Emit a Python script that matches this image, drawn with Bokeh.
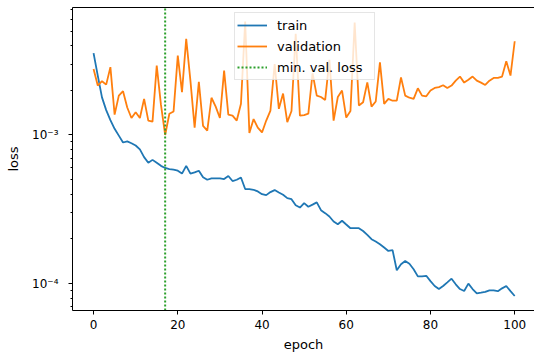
import numpy as np
from bokeh.plotting import figure
from bokeh.models import (Range1d, FixedTicker, CustomJSTickFormatter, LinearAxis,
                          Legend, LegendItem)
from bokeh.embed import file_html
from bokeh.resources import INLINE

epochs = list(range(101))

train = [
    3.55e-3, 2.51e-3, 1.79e-3, 1.47e-3, 1.26e-3, 1.10e-3, 0.99e-3, 0.89e-3, 0.905e-3, 0.88e-3,
    0.85e-3, 0.80e-3, 0.71e-3, 0.65e-3, 0.68e-3, 0.65e-3, 0.62e-3, 0.60e-3, 0.59e-3, 0.585e-3,
    0.575e-3, 0.55e-3, 0.62e-3, 0.55e-3, 0.56e-3, 0.575e-3, 0.52e-3, 0.50e-3, 0.51e-3, 0.51e-3,
    0.51e-3, 0.505e-3, 0.53e-3, 0.49e-3, 0.50e-3, 0.518e-3, 0.433e-3, 0.432e-3, 0.428e-3, 0.417e-3,
    0.40e-3, 0.394e-3, 0.413e-3, 0.426e-3, 0.41e-3, 0.396e-3, 0.376e-3, 0.37e-3, 0.337e-3, 0.325e-3,
    0.348e-3, 0.329e-3, 0.34e-3, 0.352e-3, 0.312e-3, 0.298e-3, 0.283e-3, 0.262e-3, 0.251e-3, 0.265e-3,
    0.25e-3, 0.236e-3, 0.236e-3, 0.236e-3, 0.226e-3, 0.213e-3, 0.199e-3, 0.192e-3, 0.184e-3, 0.175e-3,
    0.166e-3, 0.168e-3, 0.123e-3, 0.135e-3, 0.142e-3, 0.136e-3, 0.125e-3, 0.112e-3, 0.112e-3, 0.113e-3,
    0.104e-3, 0.0964e-3, 0.092e-3, 0.0964e-3, 0.102e-3, 0.108e-3, 0.099e-3, 0.092e-3, 0.0893e-3, 0.100e-3,
    0.092e-3, 0.0861e-3, 0.087e-3, 0.088e-3, 0.0902e-3, 0.090e-3, 0.089e-3, 0.093e-3, 0.0964e-3, 0.089e-3,
    0.0826e-3,
]

validation = [
    2.78e-3, 2.15e-3, 2.30e-3, 2.18e-3, 2.86e-3, 1.37e-3, 1.84e-3, 1.97e-3, 1.53e-3, 1.30e-3,
    1.42e-3, 1.30e-3, 1.75e-3, 1.25e-3, 1.23e-3, 2.93e-3, 1.60e-3, 1.00e-3, 1.39e-3, 1.44e-3,
    3.42e-3, 1.94e-3, 4.43e-3, 2.32e-3, 1.12e-3, 2.28e-3, 1.15e-3, 1.07e-3, 1.78e-3, 1.55e-3,
    1.30e-3, 2.71e-3, 1.37e-3, 1.35e-3, 1.25e-3, 1.62e-3, 5.80e-3, 1.03e-3, 1.28e-3, 1.12e-3,
    1.04e-3, 1.25e-3, 1.46e-3, 3.00e-3, 1.50e-3, 1.90e-3, 1.22e-3, 1.45e-3, 4.80e-3, 1.35e-3,
    1.36e-3, 1.39e-3, 2.60e-3, 1.84e-3, 1.80e-3, 1.72e-3, 3.20e-3, 1.25e-3, 1.80e-3, 1.99e-3,
    1.31e-3, 1.45e-3, 5.70e-3, 1.58e-3, 1.66e-3, 2.26e-3, 1.55e-3, 1.68e-3, 3.08e-3, 1.62e-3,
    1.75e-3, 1.70e-3, 1.70e-3, 2.44e-3, 1.84e-3, 1.78e-3, 1.75e-3, 2.06e-3, 1.84e-3, 1.82e-3,
    1.99e-3, 2.07e-3, 2.10e-3, 2.16e-3, 2.07e-3, 2.15e-3, 2.32e-3, 2.47e-3, 2.25e-3, 2.35e-3,
    2.47e-3, 2.32e-3, 2.25e-3, 2.17e-3, 2.32e-3, 2.42e-3, 2.42e-3, 2.47e-3, 3.13e-3, 2.51e-3,
    4.27e-3,
]

x_ticks = [0, 20, 40, 60, 80, 100]
y_major_ticks = [1e-4, 1e-3]
y_minor_ticks = [7e-5, 8e-5, 9e-5, 2e-4, 3e-4, 4e-4, 5e-4, 6e-4, 7e-4, 8e-4, 9e-4,
                 2e-3, 3e-3, 4e-3, 5e-3, 6e-3, 7e-3]

X_START, X_END = -5, 104.7
Y_START, Y_END = 6.6e-5, 7.2e-3

FONT = "DejaVu Sans"

p = figure(width=534, height=356, y_axis_type="log",
           x_range=Range1d(X_START, X_END), y_range=Range1d(Y_START, Y_END),
           output_backend="svg", toolbar_location=None,
           min_border_left=72, min_border_right=0, min_border_top=7, min_border_bottom=46)
p.outline_line_color = None
p.background_fill_color = "white"
p.border_fill_color = "white"
p.xgrid.visible = False
p.ygrid.visible = False

r_train = p.line(epochs, train, line_color="#1f77b4", line_width=1.8)
r_val = p.line(epochs, validation, line_color="#ff7f0e", line_width=1.8)
best = int(np.argmin(validation))
r_min = p.line([best, best], [Y_START, Y_END], line_color="#2ca02c", line_width=2,
               line_dash="2 2")

# x axis
xa = p.xaxis[0]
xa.ticker = FixedTicker(ticks=x_ticks)
xa.axis_label = "epoch"
# y axis
ya = p.yaxis[0]
ya.ticker = FixedTicker(ticks=y_major_ticks, minor_ticks=y_minor_ticks)
ya.formatter = CustomJSTickFormatter(code="""
const e = Math.round(Math.log10(tick));
const m = {"-": "\u207b", "0": "\u2070", "1": "\u00b9", "2": "\u00b2", "3": "\u00b3",
           "4": "\u2074", "5": "\u2075", "6": "\u2076", "7": "\u2077", "8": "\u2078", "9": "\u2079"};
return "10" + String(e).split("").map(c => m[c]).join("");
""")
ya.axis_label = "loss"

for ax in (xa, ya):
    ax.axis_line_color = "black"
    ax.axis_line_width = 1
    ax.major_tick_line_color = "black"
    ax.minor_tick_line_color = "black"
    ax.major_tick_in = 0
    ax.major_tick_out = 4
    ax.minor_tick_in = 0
    ax.minor_tick_out = 2
    ax.major_label_text_font = FONT
    ax.major_label_text_font_size = "12px"
    ax.major_label_text_color = "black"
    ax.axis_label_text_font = FONT
    ax.axis_label_text_font_size = "13px"
    ax.axis_label_text_font_style = "normal"
    ax.axis_label_text_color = "black"
xa.minor_tick_line_color = None
xa.major_label_standoff = 5
xa.axis_label_standoff = 5
ya.major_label_standoff = 10
ya.axis_label_standoff = 8

# top spine
top = LinearAxis(ticker=FixedTicker(ticks=[]), major_label_text_font_size="0px",
                 axis_line_color="black", axis_line_width=1,
                 major_tick_line_color=None, minor_tick_line_color=None,
                 major_tick_out=0, major_tick_in=0, major_label_standoff=0)
p.add_layout(top, "above")

legend = Legend(items=[LegendItem(label="train", renderers=[r_train]),
                       LegendItem(label="validation", renderers=[r_val]),
                       LegendItem(label="min. val. loss", renderers=[r_min])],
                location=(162, 230))
legend.label_text_font = FONT
legend.label_text_font_size = "13px"
legend.label_text_color = "black"
legend.glyph_width = 30
legend.glyph_height = 20
legend.label_height = 20
legend.label_width = 95
legend.label_standoff = 10
legend.padding = 2
legend.spacing = 1
legend.margin = 0
legend.border_line_color = "#cccccc"
legend.border_line_width = 1
legend.background_fill_alpha = 0.8
p.add_layout(legend)

open("out.html", "w").write(file_html(p, INLINE))
